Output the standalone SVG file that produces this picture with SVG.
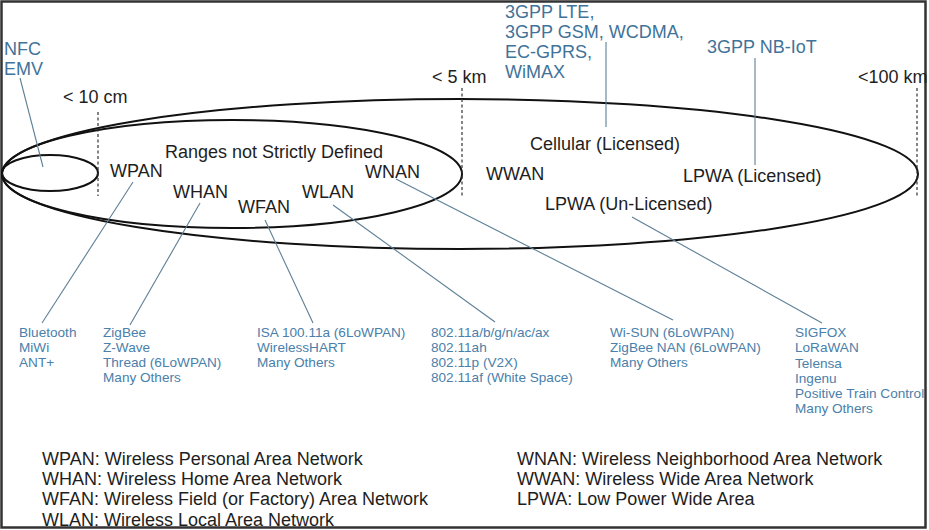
<svg xmlns="http://www.w3.org/2000/svg" width="929" height="530" viewBox="0 0 929 530">
<style>
.t{font-family:"Liberation Sans",Arial,sans-serif;font-size:18px;fill:#1e1e1e}
.b{font-family:"Liberation Sans",Arial,sans-serif;font-size:18px;fill:#3f7399}
.s{font-family:"Liberation Sans",Arial,sans-serif;font-size:13.6px;fill:#4a80aa}
.e{fill:none;stroke:#111;stroke-width:2}
.d{stroke:#333;stroke-width:1.2;stroke-dasharray:3 2.5}
.c{stroke:#5d7f96;stroke-width:1.1;fill:none}
</style>
<rect x="1.5" y="1.5" width="924" height="526" fill="#fff" stroke="#333" stroke-width="2.5"/>
<g id="ranges">
<ellipse class="e" cx="460" cy="174" rx="458" ry="75"/>
<ellipse class="e" cx="232" cy="174" rx="230" ry="54"/>
<ellipse class="e" cx="50" cy="173" rx="48" ry="18"/>
<line class="d" x1="98" y1="112" x2="98" y2="196"/>
<line class="d" x1="462" y1="88" x2="462" y2="197"/>
<line class="d" x1="917" y1="88" x2="917" y2="197"/>
<text class="t" x="63" y="103">&lt; 10 cm</text>
<text class="t" x="432" y="83">&lt; 5 km</text>
<text class="t" x="858" y="83">&lt;100 km</text>
<text class="t" x="165" y="158">Ranges not Strictly Defined</text>
</g>
<g id="connectors">
<line class="c" x1="20" y1="78" x2="43" y2="167"/>
<line class="c" x1="133" y1="182" x2="42" y2="323"/>
<line class="c" x1="200" y1="203" x2="130" y2="325"/>
<line class="c" x1="265" y1="220" x2="313" y2="323"/>
<line class="c" x1="333" y1="205" x2="495" y2="322"/>
<line class="c" x1="396" y1="179" x2="673" y2="320"/>
<line class="c" x1="632" y1="217" x2="822" y2="323"/>
<line class="c" x1="606" y1="42" x2="606" y2="127"/>
<line class="c" x1="755" y1="58" x2="755" y2="165"/>
</g>
<g id="nfc"><text class="b" x="4" y="55">NFC</text><text class="b" x="4" y="75">EMV</text></g>
<g id="cellular-tech"><text class="b" x="505" y="18">3GPP LTE,</text><text class="b" x="505" y="38">3GPP GSM, WCDMA,</text><text class="b" x="505" y="58">EC-GPRS,</text><text class="b" x="505" y="78">WiMAX</text></g>
<g id="nbiot"><text class="b" x="707" y="53">3GPP NB-IoT</text></g>
<g id="wpan"><text class="t" x="110" y="177">WPAN</text></g>
<g id="whan"><text class="t" x="173" y="198">WHAN</text></g>
<g id="wfan"><text class="t" x="238" y="213">WFAN</text></g>
<g id="wlan"><text class="t" x="302" y="198">WLAN</text></g>
<g id="wnan"><text class="t" x="365" y="178">WNAN</text></g>
<g id="wwan"><text class="t" x="486" y="180">WWAN</text></g>
<g id="cellular"><text class="t" x="530" y="150">Cellular (Licensed)</text></g>
<g id="lpwa-lic"><text class="t" x="683" y="182">LPWA (Licensed)</text></g>
<g id="lpwa-unlic"><text class="t" x="545" y="210">LPWA (Un-Licensed)</text></g>
<g id="list-wpan"><text class="s" x="19" y="337">Bluetooth</text><text class="s" x="19" y="352">MiWi</text><text class="s" x="19" y="367">ANT+</text></g>
<g id="list-whan"><text class="s" x="103" y="337">ZigBee</text><text class="s" x="103" y="352">Z-Wave</text><text class="s" x="103" y="367">Thread (6LoWPAN)</text><text class="s" x="103" y="382">Many Others</text></g>
<g id="list-wfan"><text class="s" x="257" y="337">ISA 100.11a (6LoWPAN)</text><text class="s" x="257" y="352">WirelessHART</text><text class="s" x="257" y="367">Many Others</text></g>
<g id="list-wlan"><text class="s" x="431" y="337">802.11a/b/g/n/ac/ax</text><text class="s" x="431" y="352">802.11ah</text><text class="s" x="431" y="367">802.11p (V2X)</text><text class="s" x="431" y="382">802.11af (White Space)</text></g>
<g id="list-wnan"><text class="s" x="610" y="337">Wi-SUN (6LoWPAN)</text><text class="s" x="610" y="352">ZigBee NAN (6LoWPAN)</text><text class="s" x="610" y="367">Many Others</text></g>
<g id="list-lpwa"><text class="s" x="795" y="337">SIGFOX</text><text class="s" x="795" y="352">LoRaWAN</text><text class="s" x="795" y="368">Telensa</text><text class="s" x="795" y="383">Ingenu</text><text class="s" x="795" y="398">Positive Train Control</text><text class="s" x="795" y="413">Many Others</text></g>
<g id="legend">
<text class="t" x="42" y="465">WPAN: Wireless Personal Area Network</text>
<text class="t" x="42" y="485">WHAN: Wireless Home Area Network</text>
<text class="t" x="42" y="505">WFAN: Wireless Field (or Factory) Area Network</text>
<text class="t" x="42" y="526">WLAN: Wireless Local Area Network</text>
<text class="t" x="517" y="465">WNAN: Wireless Neighborhood Area Network</text>
<text class="t" x="517" y="485">WWAN: Wireless Wide Area Network</text>
<text class="t" x="517" y="505">LPWA: Low Power Wide Area</text>
</g>
</svg>
